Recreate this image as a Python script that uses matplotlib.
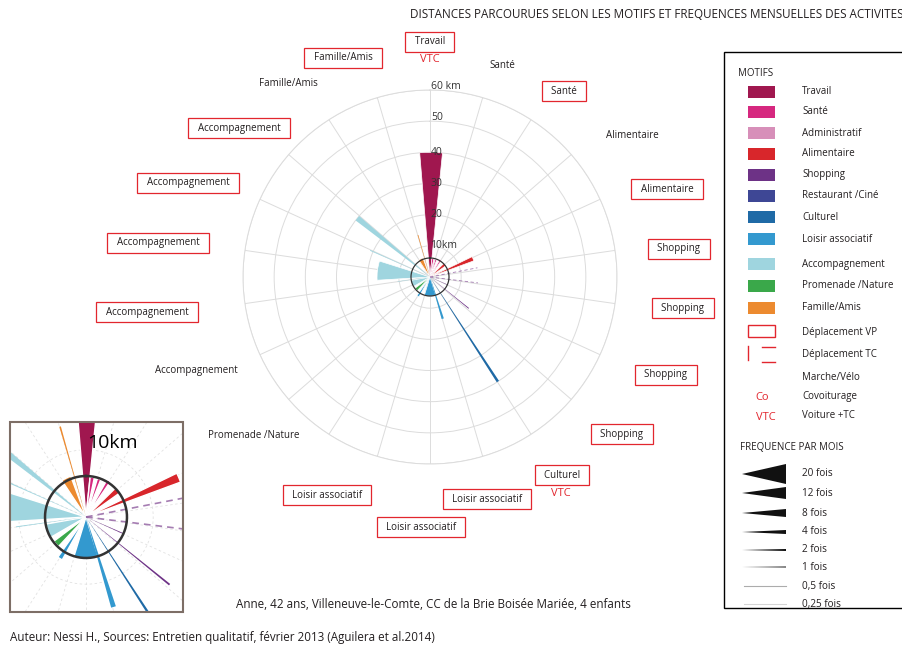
import matplotlib.pyplot as plt
import numpy as np
from matplotlib.patches import Rectangle, Polygon

plt.rcParams['font.family'] = ['Open Sans', 'DejaVu Sans']

W, H = 903, 647

# -------------------
# data
# -------------------
motifs = ['Travail', 'Santé', 'Administratif', 'Alimentaire', 'Shopping', 'Restaurant /Ciné',
          'Culturel', 'Loisir associatif', 'Accompagnement', 'Promenade /Nature', 'Famille/Amis']
motif_colors = ['#a0174f', '#d6287f', '#d78fb9', '#d8262b', '#6d3286', '#3e4795',
                '#1f6aa6', '#3399cf', '#9fd5df', '#3aa84a', '#ec8a2f']

# one entry per trip: motif, direction (deg), distance (km), frequency (wedge width, deg), mode
trip_motif = ['Travail', 'Santé', 'Santé', 'Santé', 'Alimentaire', 'Alimentaire',
              'Shopping', 'Shopping', 'Shopping', 'Shopping', 'Culturel',
              'Loisir associatif', 'Loisir associatif', 'Loisir associatif', 'Promenade /Nature',
              'Accompagnement', 'Accompagnement', 'Accompagnement', 'Accompagnement', 'Accompagnement',
              'Famille/Amis', 'Famille/Amis']
trip_angle = [0.5, 9, 19, 32, 50, 67, 79, 97, 114, 129, 147, 163, 180, 212, 228,
              250, 262, 277, 294, 309, 333, 344]
trip_km = [40, 6.0, 6.0, 6.4, 6.2, 15, 15.5, 15.5, 6.0, 16, 40, 14, 6.2, 7.3, 6.0,
           6.2, 10.5, 17, 21, 30, 6.5, 14]
trip_width = [10.5, 6, 5, 5, 9, 5.5, 0.6, 0.6, 1.2, 1.0, 1.2, 3, 34, 6, 10,
              20, 0.8, 21, 0.8, 3.5, 13, 1.0]
trip_mode = ['VP', 'VP', 'VP', 'VP', 'VP', 'VP', 'TC', 'TC', 'VP', 'VP', 'VP',
             'VP', 'VP', 'VP', 'VP', 'VP', 'VP', 'VP', 'VP', 'VP', 'VP', 'VP']

ring_km = 6.1
radial_ticks = [10, 20, 30, 40, 50, 60]
radial_labels = ['10km', '20', '30', '40', '50', '60 km']

activity_labels = ['Travail', 'Santé', 'Santé', 'Alimentaire', 'Alimentaire', 'Shopping', 'Shopping',
                   'Shopping', 'Shopping', 'Culturel', 'Loisir associatif', 'Loisir associatif',
                   'Loisir associatif', 'Promenade /Nature', 'Accompagnement', 'Accompagnement',
                   'Accompagnement', 'Accompagnement', 'Accompagnement', 'Famille/Amis', 'Famille/Amis']
activity_boxed = [True, False, True, False, True, True, True, True, True, True, True, True,
                  True, False, False, True, True, True, True, False, True]

freq_values = [20, 12, 8, 4, 2, 1, 0.5, 0.25]
freq_labels = ['20 fois', '12 fois', '8 fois', '4 fois', '2 fois', '1 fois', '0,5 fois', '0,25 fois']

# layout (pixel positions of the labels around the rose)
label_xy = [(430, 42), (502, 66), (564, 91), (632, 135), (667, 189), (679, 249), (683, 308),
            (666, 375), (622, 434), (562, 475), (487, 499), (421, 527), (327, 495), (254, 435),
            (196, 371), (147, 312), (158, 243), (188, 183), (239, 128), (288, 84), (343, 58)]

RED = '#e2262e'
TXT = '#231f20'
color_of = dict(zip(motifs, motif_colors))


def px_axes(cx, cy, r):
    return [(cx - r) / W, (H - cy - r) / H, 2 * r / W, 2 * r / H]


def setup(a, rmax, rings, dashed):
    a.set_theta_zero_location('N')
    a.set_theta_direction(-1)
    a.set_ylim(0, rmax)
    a.set_xticks(np.deg2rad(np.arange(0, 360, 360 / 22)))
    a.set_yticks(rings)
    a.set_xticklabels([])
    a.set_yticklabels([])
    if dashed:
        a.grid(color='#e2e2e2', lw=0.6, ls=(0, (3, 3)))
    else:
        a.grid(color='#dcdcdc', lw=0.7)
    a.spines['polar'].set_color('#dcdcdc')
    a.spines['polar'].set_linewidth(0.7)
    a.set_facecolor('none')


def draw_trips(a, scale):
    order = np.argsort([-w for w in trip_width])
    for i in order:
        col = color_of[trip_motif[i]]
        th = np.deg2rad(trip_angle[i])
        if trip_mode[i] == 'TC':
            a.plot([th, th], [0, trip_km[i]], color='#8f5c9f', lw=0.6 * scale,
                   ls=(0, (4, 3)), alpha=0.8, zorder=4)
        else:
            wide = trip_width[i] > 4
            a.bar(th, trip_km[i], width=np.deg2rad(trip_width[i]), color=col,
                  edgecolor='white' if wide else 'none', linewidth=0.5 * scale,
                  zorder=3 if wide else 4)
    t = np.linspace(0, 2 * np.pi, 300)
    a.plot(t, np.full_like(t, ring_km), color='#333333', lw=0.9 * scale, zorder=5)


fig = plt.figure(figsize=(W / 100, H / 100), dpi=100)

# main rose
ax = fig.add_axes(px_axes(430, 277, 187), projection='polar')
setup(ax, 60, radial_ticks, False)
draw_trips(ax, 1.0)
for r, lab in zip(radial_ticks, radial_labels):
    off = 1.2 if r >= 50 else 0
    ax.text(np.deg2rad(0.4), r + off, lab, ha='left', va='center', fontsize=7.5,
            color='#333333', zorder=6)

# zoomed inset
ins = fig.add_axes(px_axes(86, 517, 140), projection='polar')
setup(ins, 140 / 6.72, [10, 20], True)
ins.spines['polar'].set_visible(False)
draw_trips(ins, 2.0)

ov = fig.add_axes([0, 0, 1, 1])
ov.set_xlim(0, W)
ov.set_ylim(H, 0)
ov.axis('off')
ins.set_zorder(1)
ax.set_zorder(2)
ov.set_zorder(3)

# white masks around the inset window
for x0, y0, w, h in [(-60, 360, 300, 61.5), (-60, 360, 69.5, 320), (183.5, 360, 50, 320),
                     (-60, 612.5, 300, 60)]:
    ov.add_patch(Rectangle((x0, y0), w, h, facecolor='white', edgecolor='none', zorder=1))
ov.add_patch(Rectangle((10, 422), 173, 190, facecolor='none', edgecolor='#7d6e66', lw=1.5, zorder=2))
ov.text(87, 443, '10km', fontsize=14, ha='left', va='center', color='black', zorder=4)

# labels around the rose
for lab, boxed, (x, y) in zip(activity_labels, activity_boxed, label_xy):
    if boxed:
        bb = dict(boxstyle='square,pad=0.45', fc='white', ec=RED, lw=0.9)
        ov.text(x, y, '  ' + lab + '  ', ha='center', va='center', fontsize=7, color=TXT,
                bbox=bb, zorder=4)
    else:
        ov.text(x, y, lab, ha='center', va='center', fontsize=7, color=TXT, zorder=4)
ov.text(430, 60, 'VTC', ha='center', va='center', fontsize=8, color=RED, zorder=4)
ov.text(561, 493, 'VTC', ha='center', va='center', fontsize=8, color=RED, zorder=4)

# titles
ov.text(410, 14, 'DISTANCES PARCOURUES SELON LES MOTIFS ET FREQUENCES MENSUELLES DES ACTIVITES',
        ha='left', va='center', fontsize=8.35, color=TXT, zorder=4)
ov.text(433, 605, 'Anne, 42 ans, Villeneuve-le-Comte, CC de la Brie Boisée Mariée, 4 enfants',
        ha='center', va='center', fontsize=8.4, color=TXT, zorder=4)
ov.text(10, 637, 'Auteur: Nessi H., Sources: Entretien qualitatif, février 2013 (Aguilera et al.2014)',
        ha='left', va='center', fontsize=8.4, color=TXT, zorder=4)

# legend
ov.add_patch(Rectangle((724, 52), 200, 556, facecolor='white', edgecolor='black', lw=1, zorder=2))
ov.text(738, 73, 'MOTIFS', ha='left', va='center', fontsize=7, color=TXT, zorder=4)
sw_y = [92, 112, 133, 154, 175, 196, 217, 239, 264, 286, 308]
for m, c, y in zip(motifs, motif_colors, sw_y):
    ov.add_patch(Rectangle((748, y - 6), 27, 12, facecolor=c, edgecolor='none', zorder=3))
    ov.text(802, y, m, ha='left', va='center', fontsize=7, color=TXT, zorder=4)
ov.add_patch(Rectangle((748, 325), 27, 12, facecolor='white', edgecolor=RED, lw=1, zorder=3))
ov.text(802, 332, 'Déplacement VP', ha='left', va='center', fontsize=7, color=TXT, zorder=4)
ov.plot([748, 748], [346, 360], color=RED, lw=1, zorder=3)
ov.plot([762, 775], [347, 347], color=RED, lw=1, zorder=3)
ov.plot([762, 775], [362, 362], color=RED, lw=1, zorder=3)
ov.text(802, 355, 'Déplacement TC', ha='left', va='center', fontsize=7, color=TXT, zorder=4)
ov.text(802, 377, 'Marche/Vélo', ha='left', va='center', fontsize=7, color=TXT, zorder=4)
ov.text(762, 398, 'Co', ha='center', va='center', fontsize=8, color=RED, zorder=4)
ov.text(802, 397, 'Covoiturage', ha='left', va='center', fontsize=7, color=TXT, zorder=4)
ov.text(766, 417, 'VTC', ha='center', va='center', fontsize=8, color=RED, zorder=4)
ov.text(802, 416, 'Voiture +TC', ha='left', va='center', fontsize=7, color=TXT, zorder=4)
ov.text(740, 448, 'FREQUENCE PAR MOIS', ha='left', va='center', fontsize=7, color=TXT, zorder=4)

fy = [474, 493, 513, 532, 550, 567, 586, 604]
for v, lab, y in zip(freq_values, freq_labels, fy):
    if v >= 1:
        ov.add_patch(Polygon([(742, y), (786, y - v / 2), (786, y + v / 2)], closed=True,
                             facecolor='#111111', edgecolor='none', zorder=3))
    else:
        ov.plot([744, 786], [y, y], color='#111111', lw=0.8, alpha=0.35 * v / 0.5, zorder=3)
    ov.text(802, y, lab, ha='left', va='center', fontsize=7.2, color=TXT, zorder=4)

fig.savefig('out.png', dpi=100)
